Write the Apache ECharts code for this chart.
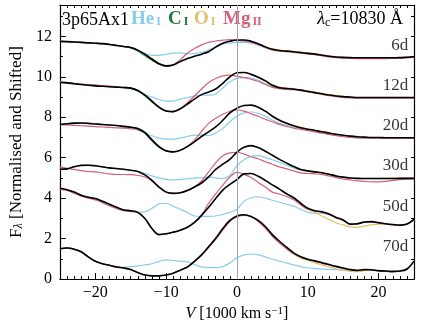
<!DOCTYPE html>
<html>
<head>
<meta charset="utf-8">
<script src="https://cdn.jsdelivr.net/npm/echarts@6/dist/echarts.min.js"></script>
<style>
  html, body { margin: 0; padding: 0; background: #fff; }
  #main { width: 436px; height: 327px; }
</style>
</head>
<body>
<div id="main"></div>
<script>
// velocity grid, 1000 km/s
var V = [-25,-24,-23,-22,-21,-20,-19,-18,-17,-16,
         -15,-14,-13,-12,-11,-10,-9,-8,-7,-6,
         -5,-4,-3,-2,-1,0,1,2,3,4,
         5,6,7,8,9,10,11,12,13,14,
         15,16,17,18,19,20,21,22,23,24,25];

var EPOCHS = ['6d', '12d', '20d', '30d', '50d', '70d'];
var LABEL_Y = [11.55, 9.55, 7.6, 5.6, 3.6, 1.6];
var LABEL_X = 24.2;

// total spectrum (black)
var TOT_6 = [11.75,11.74,11.72,11.70,11.68,11.66,11.64,11.60,11.55,11.50,
             11.45,11.32,11.12,10.88,10.65,10.54,10.58,10.76,10.90,11.02,
             11.12,11.24,11.47,11.66,11.76,11.82,11.82,11.76,11.64,11.48,
             11.36,11.30,11.27,11.24,11.20,11.16,11.12,11.07,11.02,10.98,
             10.96,10.95,10.94,10.94,10.94,10.94,10.94,10.94,10.95,10.97,10.99];
var TOT_12 = [9.72,9.70,9.66,9.62,9.58,9.55,9.53,9.51,9.49,9.47,
              9.44,9.32,9.10,8.80,8.50,8.31,8.28,8.42,8.65,8.90,
              9.12,9.25,9.40,9.68,10.00,10.20,10.21,10.12,9.98,9.80,
              9.58,9.46,9.42,9.39,9.34,9.28,9.22,9.16,9.10,9.05,
              9.02,9.00,8.98,8.98,8.98,8.98,8.98,8.98,8.98,8.98,8.98];
var TOT_20 = [7.64,7.68,7.71,7.72,7.70,7.67,7.64,7.62,7.59,7.55,
              7.51,7.45,7.25,6.88,6.55,6.34,6.29,6.37,6.55,6.78,
              7.05,7.28,7.52,7.85,8.22,8.45,8.58,8.60,8.50,8.30,
              8.05,7.85,7.70,7.58,7.48,7.41,7.35,7.28,7.22,7.16,
              7.11,7.07,7.04,7.02,7.00,7.00,6.99,6.99,6.99,6.99,6.99];
var TOT_30 = [5.43,5.45,5.55,5.62,5.63,5.60,5.55,5.50,5.47,5.43,
              5.38,5.32,5.15,4.88,4.55,4.30,4.24,4.27,4.38,4.55,
              4.75,5.05,5.42,5.68,5.92,6.28,6.52,6.60,6.50,6.32,
              6.12,5.92,5.74,5.57,5.42,5.35,5.30,5.26,5.18,5.10,
              5.04,5.00,4.98,4.97,4.97,4.97,4.97,4.97,4.98,4.98,4.98];
var TOT_50 = [4.49,4.42,4.30,4.15,4.05,3.98,3.85,3.70,3.55,3.42,
              3.38,3.30,3.00,2.50,2.20,2.24,2.32,2.42,2.56,2.80,
              3.15,3.55,3.98,4.40,4.68,4.92,5.20,5.22,5.08,4.88,
              4.66,4.45,4.22,4.02,3.75,3.50,3.38,3.33,3.22,3.05,
              2.92,2.72,2.74,2.82,2.84,2.79,2.74,2.70,2.67,2.72,2.95];
var TOT_70 = [1.50,1.54,1.48,1.35,1.10,0.88,0.76,0.68,0.60,0.55,
              0.47,0.32,0.20,0.16,0.16,0.20,0.29,0.44,0.60,0.88,
              1.20,1.60,2.02,2.50,2.90,3.12,3.18,3.10,2.90,2.60,
              2.20,1.87,1.58,1.30,1.10,0.98,0.90,0.81,0.72,0.63,
              0.55,0.47,0.43,0.47,0.46,0.42,0.40,0.38,0.40,0.50,0.89];

// He I (light blue)
var HE_6 = [11.75,11.74,11.72,11.70,11.68,11.66,11.64,11.60,11.55,11.50,
            11.45,11.30,11.15,11.06,11.06,11.12,11.17,11.18,11.14,11.15,
            11.20,11.32,11.48,11.62,11.68,11.70,11.70,11.66,11.56,11.43,
            11.34,11.29,11.26,11.23,11.19,11.15,11.11,11.06,11.01,10.97,
            10.95,10.94,10.93,10.93,10.93,10.93,10.93,10.93,10.94,10.96,10.98];
var HE_12 = [9.72,9.70,9.66,9.62,9.58,9.55,9.53,9.51,9.49,9.47,
             9.44,9.30,9.12,9.00,8.88,8.80,8.80,8.90,8.97,9.05,
             9.10,9.09,9.15,9.45,9.75,9.92,9.96,9.93,9.83,9.66,
             9.52,9.45,9.41,9.38,9.33,9.27,9.21,9.15,9.09,9.04,
             9.01,8.99,8.97,8.97,8.97,8.97,8.97,8.97,8.97,8.97,8.97];
var HE_20 = [7.64,7.68,7.71,7.72,7.70,7.67,7.64,7.62,7.59,7.55,
             7.51,7.45,7.22,7.08,6.97,6.92,6.92,6.97,7.05,7.12,
             7.12,7.10,7.22,7.45,7.78,8.05,8.22,8.26,8.20,8.05,
             7.86,7.70,7.60,7.52,7.46,7.40,7.34,7.27,7.21,7.15,
             7.10,7.06,7.03,7.01,6.99,6.99,6.98,6.98,6.98,6.98,6.98];
var HE_30 = [5.43,5.45,5.55,5.62,5.63,5.60,5.55,5.50,5.47,5.43,
             5.38,5.32,5.22,5.10,5.00,4.93,4.90,4.92,4.96,4.99,
             5.02,5.05,5.00,4.97,5.12,5.60,5.90,6.07,6.10,6.02,
             5.90,5.77,5.63,5.50,5.40,5.34,5.29,5.25,5.17,5.09,
             5.03,4.99,4.97,4.96,4.96,4.96,4.96,4.96,4.97,4.97,4.97];
var HE_50 = [4.49,4.42,4.30,4.15,4.05,3.98,3.85,3.70,3.55,3.42,
             3.33,3.30,3.32,3.50,3.72,3.75,3.60,3.45,3.30,3.12,
             3.10,3.10,3.12,3.20,3.30,3.45,3.85,4.02,4.07,4.00,
             3.90,3.80,3.70,3.60,3.45,3.30,3.26,3.25,3.20,3.04,
             2.91,2.71,2.73,2.81,2.83,2.78,2.73,2.69,2.66,2.71,2.93];
var HE_70 = [1.50,1.54,1.48,1.35,1.10,0.88,0.76,0.68,0.62,0.58,
             0.62,0.65,0.70,0.76,0.88,0.95,0.92,0.88,0.85,0.72,
             0.60,0.58,0.57,0.62,0.80,1.05,1.20,1.24,1.20,1.10,
             0.98,0.89,0.80,0.70,0.62,0.56,0.52,0.50,0.48,0.47,
             0.45,0.44,0.42,0.46,0.45,0.41,0.39,0.37,0.39,0.49,0.88];

// Mg II (red)
var MG_6 = [11.75,11.74,11.72,11.70,11.68,11.66,11.64,11.60,11.55,11.50,
            11.45,11.32,11.12,10.88,10.65,10.54,10.60,10.85,11.16,11.40,
            11.58,11.70,11.77,11.81,11.84,11.80,11.76,11.70,11.60,11.45,
            11.32,11.27,11.24,11.21,11.17,11.13,11.09,11.04,10.99,10.95,
            10.92,10.91,10.90,10.90,10.90,10.90,10.90,10.91,10.92,10.94,10.96];
var MG_12 = [9.76,9.73,9.68,9.64,9.61,9.60,9.57,9.54,9.51,9.48,
             9.45,9.33,9.10,8.80,8.50,8.31,8.28,8.42,8.72,9.05,
             9.40,9.72,9.92,10.05,10.08,10.03,9.96,9.88,9.78,9.62,
             9.48,9.42,9.38,9.36,9.32,9.26,9.20,9.13,9.07,9.02,
             8.98,8.96,8.95,8.95,8.95,8.95,8.95,8.95,8.95,8.95,8.95];
var MG_20 = [7.64,7.62,7.60,7.58,7.56,7.54,7.52,7.50,7.48,7.46,
             7.43,7.38,7.22,6.88,6.55,6.34,6.29,6.37,6.55,6.88,
             7.30,7.70,7.95,8.15,8.30,8.36,8.30,8.17,8.05,7.90,
             7.78,7.65,7.55,7.46,7.40,7.34,7.28,7.21,7.15,7.09,
             7.04,7.00,6.98,6.97,6.97,6.97,6.97,6.97,6.97,6.97,6.97];
var MG_30 = [5.55,5.48,5.42,5.36,5.32,5.30,5.25,5.20,5.17,5.17,
             5.16,5.12,5.05,4.85,4.55,4.30,4.24,4.27,4.38,4.55,
             4.85,5.30,5.75,6.10,6.24,6.27,6.18,6.05,5.95,5.80,
             5.68,5.55,5.45,5.35,5.25,5.22,5.20,5.17,5.10,5.02,
             4.95,4.90,4.86,4.83,4.81,4.81,4.83,4.88,4.92,4.94,4.95];
var MG_50 = [4.45,4.38,4.25,4.10,4.00,3.92,3.78,3.62,3.48,3.38,
             3.35,3.30,3.00,2.50,2.20,2.24,2.32,2.42,2.56,2.80,
             3.15,3.75,4.20,4.65,5.05,5.28,5.18,5.02,4.78,4.55,
             4.30,4.20,4.08,3.92,3.68,3.44,3.36,3.30,3.20,3.03,
             2.90,2.70,2.72,2.80,2.82,2.77,2.72,2.68,2.65,2.70,2.93];
var MG_70 = [1.50,1.54,1.48,1.35,1.10,0.88,0.76,0.68,0.60,0.55,
             0.47,0.32,0.20,0.16,0.16,0.20,0.29,0.44,0.60,0.88,
             1.18,1.56,1.96,2.42,2.85,3.08,3.15,3.08,2.85,2.52,
             2.12,1.78,1.50,1.25,1.06,0.95,0.87,0.78,0.70,0.60,
             0.52,0.45,0.41,0.44,0.44,0.40,0.38,0.36,0.38,0.48,0.87];

// O I (yellow) only where it peeks out, with its first velocity
var O_6 = [11.65,11.50,11.38,11.32,11.29,11.26,11.22,11.18,11.14,11.09,11.04,11.00,10.97];
var O_6_FROM = 3;
var O_12 = [9.99,9.83,9.62,9.49,9.44,9.41,9.36,9.30,9.24,9.18,9.12,9.07,9.03];
var O_12_FROM = 3;
var O_20 = [8.32,8.08,7.88,7.73,7.60,7.50,7.43,7.37,7.30,7.24];
var O_20_FROM = 4;
var O_30 = [5.43,5.36,5.31,5.27,5.19,5.11,5.05,5.01,4.99,4.98,4.98,4.98,4.99,4.99,4.99,4.99,4.99];
var O_30_FROM = 9;
var O_50 = [4.02,3.75,3.45,3.30,3.12,2.95,2.78,2.68,2.58,2.56,2.62,2.68,2.72,2.72];
var O_50_FROM = 8;
var O_70 = [1.28,1.05,0.92,0.80,0.70,0.60,0.50,0.43,0.38,0.37,0.42,0.44];
var O_70_FROM = 8;

// C I (green)
var C_6 = [11.50,11.43,11.28,11.05,10.82,10.62,10.53,10.58];
var C_6_FROM = -16;
var C_12 = [9.47,9.43,9.30,9.06,8.76,8.48,8.30,8.28];
var C_12_FROM = -16;
var C_20 = [7.55,7.50,7.43,7.21,6.84,6.52,6.33,6.29];
var C_20_FROM = -16;

var TOT = [TOT_6, TOT_12, TOT_20, TOT_30, TOT_50, TOT_70];
var HE = [HE_6, HE_12, HE_20, HE_30, HE_50, HE_70];
var MG = [MG_6, MG_12, MG_20, MG_30, MG_50, MG_70];
var OI = [[O_6, O_6_FROM], [O_12, O_12_FROM], [O_20, O_20_FROM],
          [O_30, O_30_FROM], [O_50, O_50_FROM], [O_70, O_70_FROM]];
var CI = [[C_6, C_6_FROM], [C_12, C_12_FROM], [C_20, C_20_FROM], null, null, null];

// ion legend: element, ionisation stage
var IONS = [['He', 'I'], ['C', 'I'], ['O', 'I'], ['Mg', 'II']];

var COL_HE = '#86cdee';
var COL_C = '#1d7c3c';
var COL_O = '#dcc36c';
var COL_MG = '#d1607a';
var SERIF = 'Liberation Serif';

;(function() {
  var myChart = echarts.init(document.getElementById('main'));

  function line(vals, from, color, width) {
    var start = V.indexOf(from);
    return {
      type: 'line',
      data: vals.map(function(y, i) { return [V[start + i], y]; }),
      showSymbol: false,
      symbol: 'none',
      smooth: 0.35,
      silent: true,
      lineStyle: { color: color, width: width },
      xAxisIndex: 0,
      yAxisIndex: 0
    };
  }

  var series = [];
  // thin grey line at zero velocity
  series.push({
    type: 'line',
    data: [],
    silent: true,
    markLine: {
      silent: true,
      symbol: 'none',
      animation: false,
      label: { show: false },
      lineStyle: { color: '#a3a3b0', width: 1, type: 'solid' },
      data: [{ xAxis: 0 }]
    }
  });

  for (var i = 0; i < EPOCHS.length; i++) {
    series.push(line(HE[i], -25, COL_HE, 1.2));
    series.push(line(MG[i], -25, COL_MG, 1.2));
    series.push(line(OI[i][0], OI[i][1], COL_O, 1.2));
    if (CI[i]) series.push(line(CI[i][0], CI[i][1], COL_C, 1.3));
    series.push(line(TOT[i], -25, '#000', 1.6));
  }

  // epoch labels
  series.push({
    type: 'scatter',
    symbolSize: 0,
    silent: true,
    data: EPOCHS.map(function(e, i) { return { name: e, value: [LABEL_X, LABEL_Y[i]] }; }),
    label: {
      show: true,
      position: 'left',
      distance: 0,
      formatter: '{b}',
      fontFamily: SERIF,
      fontSize: 17,
      color: '#000'
    }
  });

  var tickFmtX = function(v) {
    if (Math.abs(v % 10) > 1e-6) return '';
    return v < 0 ? '\u2212' + Math.abs(v) : String(v);
  };
  var tickFmtY = function(v) {
    if (Math.abs(v % 2) > 1e-6 || v > 12.5) return '';
    return String(v);
  };

  var frameLine = { show: true, onZero: false, lineStyle: { color: '#000', width: 1.2 } };
  var noLine = { show: false, onZero: false };

  // legend words, one text per ion
  var ionCols = [COL_HE, COL_C, COL_O, COL_MG];
  var ionLeft = [131, 168, 194, 223];
  var ionText = IONS.map(function(ion, k) {
    return {
      type: 'text', left: ionLeft[k], top: 10, silent: true,
      style: {
        text: '{a|' + ion[0] + '}{b|' + ion[1] + '}',
        rich: {
          a: { fontFamily: SERIF, fontSize: 19, fontWeight: 'bold', fill: ionCols[k] },
          b: { fontFamily: SERIF, fontSize: 12, fontWeight: 'bold', fill: ionCols[k], padding: [5, 0, 0, 2] }
        }
      }
    };
  });

  var option = {
    animation: false,
    grid: { left: 52, right: 22, top: 5, bottom: 44 },
    xAxis: [
      {
        type: 'value', min: -25, max: 25, interval: 1, position: 'bottom',
        axisLine: frameLine,
        axisTick: { show: true, inside: true, length: 3, lineStyle: { color: '#000' } },
        axisLabel: { formatter: tickFmtX, fontFamily: SERIF, fontSize: 16, color: '#000', margin: 6 },
        splitLine: { show: false },
        name: '{it|V} [1000 km s{sup|\u22121}]',
        nameLocation: 'middle',
        nameGap: 24,
        nameTextStyle: {
          fontFamily: SERIF, fontSize: 16, color: '#000',
          rich: {
            it: { fontFamily: SERIF, fontSize: 16, fontStyle: 'italic', color: '#000' },
            sup: { fontFamily: SERIF, fontSize: 11, color: '#000', verticalAlign: 'top' }
          }
        }
      },
      {
        type: 'value', min: -25, max: 25, interval: 1, position: 'top',
        axisLine: frameLine,
        axisTick: { show: true, inside: true, length: 3, lineStyle: { color: '#000' } },
        axisLabel: { show: false },
        splitLine: { show: false }
      },
      {
        type: 'value', min: -25, max: 25, position: 'bottom',
        axisLine: noLine,
        axisTick: { show: true, inside: true, length: 6, customValues: [-20, -10, 0, 10, 20], lineStyle: { color: '#000' } },
        axisLabel: { show: false },
        splitLine: { show: false }
      }
    ],
    yAxis: [
      {
        type: 'value', min: 0, max: 13.55, interval: 1, position: 'left',
        axisLine: frameLine,
        axisTick: { show: true, inside: true, length: 3, lineStyle: { color: '#000' } },
        axisLabel: { formatter: tickFmtY, fontFamily: SERIF, fontSize: 16, color: '#000', margin: 8 },
        splitLine: { show: false },
        name: 'F{sub|\u03bb} [Normalised and Shifted]',
        nameLocation: 'middle',
        nameGap: 30,
        nameTextStyle: {
          fontFamily: SERIF, fontSize: 17, color: '#000',
          rich: {
            sub: { fontFamily: SERIF, fontSize: 12, fontStyle: 'italic', color: '#000', verticalAlign: 'bottom' }
          }
        }
      },
      {
        type: 'value', min: 0, max: 13.55, interval: 1, position: 'right',
        axisLine: frameLine,
        axisTick: { show: true, inside: true, length: 3, lineStyle: { color: '#000' } },
        axisLabel: { show: false },
        splitLine: { show: false }
      },
      {
        type: 'value', min: 0, max: 13.55, position: 'left',
        axisLine: noLine,
        axisTick: { show: true, inside: true, length: 6, customValues: [0, 2, 4, 6, 8, 10, 12], lineStyle: { color: '#000' } },
        axisLabel: { show: false },
        splitLine: { show: false }
      }
    ],
    graphic: [
      {
        type: 'text', left: 62, top: 11, silent: true,
        style: { text: '3p65Ax1', fontFamily: SERIF, fontSize: 18, fill: '#000' }
      },
      {
        type: 'text', right: 33, top: 10, silent: true,
        style: {
          text: '{l|\u03bb}{s|c}{n|=10830 \u00c5}',
          rich: {
            l: { fontFamily: SERIF, fontSize: 18, fontStyle: 'italic', fill: '#000' },
            s: { fontFamily: SERIF, fontSize: 12, fill: '#000', padding: [7, 0, 0, 0] },
            n: { fontFamily: SERIF, fontSize: 18, fill: '#000' }
          }
        }
      }
    ].concat(ionText),
    series: series
  };

  myChart.setOption(option);
  window.addEventListener('resize', function() {
    myChart.resize();
  });
})();
</script>
</body>
</html>
